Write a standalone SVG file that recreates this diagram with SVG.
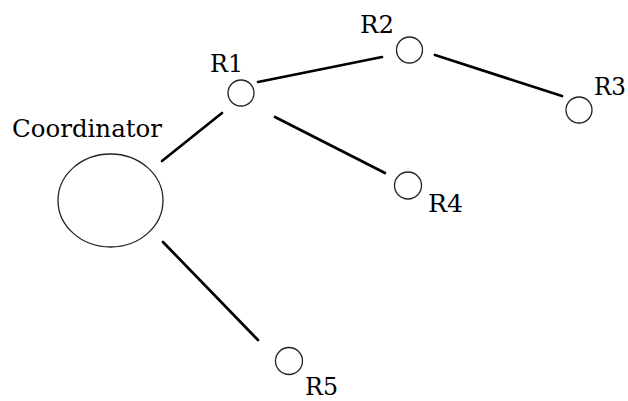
<svg xmlns="http://www.w3.org/2000/svg" width="628" height="401" viewBox="0 0 628 401">
<style>
.n{fill:none;stroke:#222;stroke-width:1.3}
.e{stroke:#000;stroke-width:2.7;stroke-linecap:round;fill:none}
.t{font-family:"DejaVu Serif","Liberation Serif",serif;font-size:25px;fill:#000}
</style>
<rect width="628" height="401" fill="#fff"/>
<g id="connectors">
<line class="e" x1="162" y1="161" x2="222" y2="113"/>
<line class="e" x1="258" y1="82" x2="382" y2="57"/>
<line class="e" x1="275" y1="117" x2="385" y2="173"/>
<line class="e" x1="435" y1="55" x2="562" y2="96"/>
<line class="e" x1="163" y1="242" x2="258" y2="340"/>
</g>
<g id="coordinator">
<ellipse class="n" cx="110.5" cy="200.5" rx="52.5" ry="46.5"/>
<text class="t" x="12" y="137" textLength="150" lengthAdjust="spacingAndGlyphs">Coordinator</text>
</g>
<g id="R1">
<circle class="n" cx="241" cy="93" r="13"/>
<text class="t" x="210" y="72" textLength="33" lengthAdjust="spacingAndGlyphs">R1</text>
</g>
<g id="R2">
<circle class="n" cx="409.5" cy="50" r="13"/>
<text class="t" x="360" y="33" textLength="34" lengthAdjust="spacingAndGlyphs">R2</text>
</g>
<g id="R3">
<circle class="n" cx="579" cy="110" r="13"/>
<text class="t" x="594" y="95" textLength="32" lengthAdjust="spacingAndGlyphs">R3</text>
</g>
<g id="R4">
<circle class="n" cx="408" cy="185.5" r="13.5"/>
<text class="t" x="428" y="212" textLength="35" lengthAdjust="spacingAndGlyphs">R4</text>
</g>
<g id="R5">
<circle class="n" cx="289" cy="361" r="13.5"/>
<text class="t" x="305" y="395" textLength="33" lengthAdjust="spacingAndGlyphs">R5</text>
</g>
</svg>
